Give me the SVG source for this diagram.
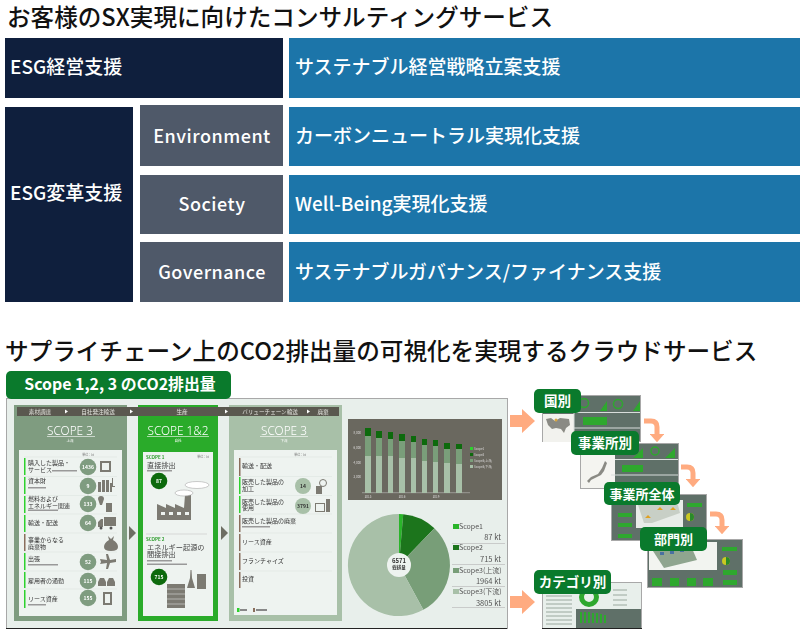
<svg xmlns="http://www.w3.org/2000/svg" width="800" height="631" viewBox="0 0 800 631">
<defs>
<style>
text{font-family:"Noto Sans CJK JP","Noto Sans",sans-serif}
.h{font-size:23.600px;font-weight:500;fill:#111}
.n{fill:#0f1f3d}.g{fill:#4f5969}.b{fill:#1c75a9}
.w{fill:#fff;font-size:19px;font-weight:500}
.e{fill:#fff;font-size:18px;font-weight:500;text-anchor:middle;letter-spacing:.5px}
.tag{fill:#0a7a2c}
.tt{fill:#fff;font-weight:700;font-size:13.500px;text-anchor:middle}
.sc{fill:#fff;font-family:"Noto Sans",sans-serif;font-weight:300;font-size:11.800px;text-anchor:middle}
.ti{fill:#fff;font-size:3.500px;text-anchor:middle}
.bt{fill:#e4e4de;font-size:5.600px;text-anchor:middle}
.it{fill:#333;font-size:6px}
.un{fill:#777;font-size:3px;text-anchor:middle}
.big{fill:#444;font-size:7.200px}
.c{fill:#7f9c80}.cl{fill:#a8c0a8}.cd{fill:#0a6a0a}
.ct{fill:#fff;font-size:5px;font-weight:700;text-anchor:middle}
.cb{fill:#333;font-size:5px;font-weight:700;text-anchor:middle}
.bar{fill:#2fd12f}.bar2{fill:#8a6e5c}
.ico{fill:#7c7a72}
.tl{fill:#999}
.sep{stroke:#dfe6e2;stroke-width:.7;fill:none}
.thumb{fill:#5f6f68;stroke:#a8a8a8;stroke-width:1}
.gb{fill:#2ea82e}
.pa{fill:#ffab80}
.pc{fill:none;stroke:#ffab80;stroke-width:5}
.lg{fill:#555;font-size:7px}
.lv{fill:#555;font-size:7.500px;text-anchor:end}
.ll{stroke:#bbb;stroke-width:.7}
.dn{fill:none;stroke:#2ea82e;stroke-width:1.500}
.tsep{stroke:#d8dedb;stroke-width:1}
.soft{filter:url(#soft)}
</style>
<filter id="soft" x="0" y="0" width="100%" height="100%"><feGaussianBlur stdDeviation="0.35"/></filter>
<marker id="ah" viewBox="0 0 16 28" refX="0" refY="14" markerWidth="1.700" markerHeight="2.900" orient="auto"><path d="M0 0L16 14L0 28z" fill="#ffab80"/></marker>
</defs>
<rect width="800" height="631" fill="#fff"/>
<text class="h" x="7" y="26">お客様のSX実現に向けたコンサルティングサービス</text>
<g id="esg-keiei"><rect class="n" x="5" y="38" width="278" height="60"/><text class="w" x="10" y="74">ESG経営支援</text></g>
<g id="sustainable"><rect class="b" x="289" y="38" width="511" height="60"/><text class="w" x="295" y="74">サステナブル経営戦略立案支援</text></g>
<g id="esg-henkaku"><rect class="n" x="5" y="107" width="128" height="195"/><text class="w" x="10" y="200">ESG変革支援</text></g>
<g id="environment"><rect class="g" x="140" y="105" width="143" height="61"/><text class="e" x="212" y="143">Environment</text></g>
<g id="society"><rect class="g" x="140" y="175" width="143" height="59"/><text class="e" x="212" y="211">Society</text></g>
<g id="governance"><rect class="g" x="140" y="242" width="143" height="60"/><text class="e" x="212" y="279">Governance</text></g>
<g id="carbon"><rect class="b" x="289" y="107" width="511" height="59"/><text class="w" x="295" y="143">カーボンニュートラル実現化支援</text></g>
<g id="wellbeing"><rect class="b" x="289" y="175" width="511" height="59"/><text class="w" x="295" y="211">Well-Being実現化支援</text></g>
<g id="finance"><rect class="b" x="289" y="242" width="511" height="60"/><text class="w" x="295" y="279">サステナブルガバナンス/ファイナンス支援</text></g>
<text class="h" x="5" y="360">サプライチェーン上のCO2排出量の可視化を実現するクラウドサービス</text>

<g id="dashboard" class="soft">
<rect x="6.500" y="398.500" width="501" height="230" fill="#e8efeb" stroke="#a8a8a8"/>
<path d="M6 628.500H507" stroke="#222"/>
<rect x="14" y="405" width="113" height="216" fill="#7f9c80"/>
<rect x="138" y="405" width="80" height="216" fill="#2cab2c"/>
<rect x="229" y="405" width="113" height="216" fill="#a8c0a8"/>
<rect x="17" y="407" width="322" height="9" fill="#5a5850"/>
<text class="bt" x="40" y="413.500">素材調達</text><path d="M65 409.500l3 2-3 2z" fill="#fff"/>
<text class="bt" x="98" y="413.500">自社発注輸送</text><path d="M130 409.500l3 2-3 2z" fill="#fff"/>
<text class="bt" x="182" y="413.500">生産</text><path d="M225 409.500l3 2-3 2z" fill="#fff"/>
<text class="bt" x="270" y="413.500">バリューチェーン輸送</text><path d="M307 409.500l3 2-3 2z" fill="#fff"/>
<text class="bt" x="323" y="413.500">廃棄</text>
<text class="sc" x="70" y="435">SCOPE 3</text><path d="M47 436.500H95" stroke="#fff" stroke-width=".6"/><text class="ti" x="70" y="442">上流</text>
<text class="sc" x="178" y="435">SCOPE 1&amp;2</text><path d="M147 436.500H209" stroke="#fff" stroke-width=".6"/><text class="ti" x="178" y="442">自社</text>
<text class="sc" x="284" y="435">SCOPE 3</text><path d="M260 436.500H308" stroke="#fff" stroke-width=".6"/><text class="ti" x="284" y="442">下流</text>
<rect x="19" y="450" width="103" height="166" fill="#eef3f0"/>
<rect x="143" y="452" width="70" height="164" fill="#eef3f0"/>
<rect x="234" y="450" width="103" height="165" fill="#eef3f0"/>
<path d="M129 526l7 7-7 7z" fill="#6e6e64"/>
<path d="M221 526l7 7-7 7z" fill="#6e6e64"/>
</g>
<g id="scope3-up" class="soft">
<text class="un" x="88" y="456">単位：kt</text>
<path class="sep" d="M24 457H117M24 476.500H117M24 495.500H117M24 514H117M24 533H117M24 552H117M24 571H117M24 589H117"/>
<rect class="bar" x="24" y="458" width="1.500" height="17"/><rect class="bar" x="24" y="477" width="1.500" height="17"/><rect class="bar" x="24" y="496" width="1.500" height="17"/><rect class="bar" x="24" y="515" width="1.500" height="17"/><rect class="bar2" x="24" y="534" width="1.500" height="17"/><rect class="bar" x="24" y="553" width="1.500" height="17"/><rect class="bar" x="24" y="572" width="1.500" height="16"/><rect class="bar" x="24" y="590" width="1.500" height="18"/>
<text class="it" x="28" y="465">購入した製品・</text><text class="it" x="28" y="472">サービス</text><rect class="tl" x="52" y="470" width="25" height="1.500"/>
<text class="it" x="28" y="483">資本財</text><rect class="tl" x="28" y="487" width="18" height="1.500"/>
<text class="it" x="28" y="501">燃料および</text><text class="it" x="28" y="508">エネルギー関連</text><rect class="tl" x="28" y="509.500" width="30" height="1.500"/>
<text class="it" x="28" y="525">輸送・配送</text>
<text class="it" x="28" y="542">事業からなる</text><text class="it" x="28" y="549">廃棄物</text>
<text class="it" x="28" y="561">出張</text><rect class="tl" x="28" y="564" width="30" height="1.500"/>
<text class="it" x="28" y="583">雇用者の通勤</text>
<text class="it" x="28" y="601">リース資産</text><rect class="tl" x="28" y="604" width="18" height="1.500"/>
<circle class="c" cx="88" cy="467" r="8.300"/><text class="ct" x="88" y="469">1436</text>
<circle class="c" cx="88" cy="486" r="8.300"/><text class="ct" x="88" y="488">9</text>
<circle class="c" cx="88" cy="504" r="8.300"/><text class="ct" x="88" y="506">133</text>
<circle class="c" cx="88" cy="523" r="8.300"/><text class="ct" x="88" y="525">64</text>
<circle class="c" cx="88" cy="562" r="8.300"/><text class="ct" x="88" y="564">52</text>
<circle class="c" cx="88" cy="581" r="8.300"/><text class="ct" x="88" y="583">115</text>
<circle class="c" cx="88" cy="598" r="8.300"/><text class="ct" x="88" y="600">155</text>
<path class="ico" fill-rule="evenodd" d="M100 461h11v11h-11zM102 463v7h7v-7z"/>
<path class="ico" d="M98 482h3v10h-3zM102 480h3v12h-3zM106 480h3v12h-3zM110 483h2v9h-2zM112 478h1v8h2v1h-3z"/>
<path class="ico" d="M98 499a3 3 0 0 1 6 0l-2 6h-2zM106 503h6v9h-6z"/>
<path class="ico" d="M104 517h12v9h-12zM98 527v-5l3-3h2v8z"/><circle cx="101" cy="528" r="1.500" fill="#555"/><circle cx="111" cy="528" r="1.500" fill="#555"/>
<path d="M108 536l3 3 3-3-1 4q5 3 5 7 0 4-7 4-7 0-7-4 0-4 5-7z" fill="#7c7a72"/>
<path class="ico" d="M106 554h2l2 6 6-1v3l-6 1-2 6h-2l1-6-7 1 1-2-1-3 7 1z"/>
<path class="ico" d="M98 582l2-4h4l2 4v4h-8zM107 582l2-4h4l2 4v4h-8z"/>
<path class="ico" fill-rule="evenodd" d="M103 592h9v13h-9zM105 594v9h5v-9z"/>
</g>
<g id="scope12" class="soft">
<text x="146" y="458.500" font-size="4.500" font-weight="700" fill="#2a9a2a">SCOPE 1</text><text class="un" x="203" y="458">単位：kt</text>
<text class="big" x="147" y="468">直接排出</text><rect class="tl" x="147" y="470" width="25" height="1.500"/>
<circle cx="159" cy="481" r="8.300" fill="#0a6a0a"/><text class="ct" x="159" y="483">87</text>
<path class="ico" d="M157 520v-16l9 4v-4l9 4v-4l9 4 1-13h6v25z"/><path fill="#eef3f0" d="M161 512h4v3h-4zM169 512h4v3h-4zM177 512h4v3h-4zM185 512h4v3h-4z"/>
<ellipse cx="197" cy="485" rx="12" ry="3.500" fill="#fff" stroke="#aaa" stroke-width=".6"/><ellipse cx="184" cy="493" rx="9" ry="3" fill="#fff" stroke="#aaa" stroke-width=".6"/>
<path d="M146 534H207" stroke="#ccc" stroke-width=".7"/>
<text x="146" y="541" font-size="4.500" font-weight="700" fill="#2a9a2a">SCOPE 2</text>
<text class="big" x="147" y="549.500">エネルギー起源の</text><text class="big" x="147" y="557">間接排出</text>
<rect class="tl" x="147" y="560" width="25" height="1.500"/><rect class="tl" x="147" y="563.500" width="40" height="1.500"/>
<circle cx="159" cy="577" r="8.300" fill="#0a6a0a"/><text class="ct" x="159" y="579">715</text>
<rect class="ico" x="167" y="584" width="18" height="24"/><path d="M167 589H185M167 594H185M167 599H185M167 604H185" stroke="#eef3f0" stroke-width=".5"/><path class="ico" d="M190.500 570h1l.5 8 3 10h-8l3-10z"/><rect class="ico" x="197" y="574" width="9" height="15"/>
</g>
<g id="scope3-down" class="soft">
<text class="un" x="300" y="456">単位：kt</text>
<path class="sep" d="M239 457H332M239 476.500H332M239 495.500H332M239 514H332M239 533H332M239 552H332M239 571H332"/>
<rect class="bar2" x="239" y="458" width="1.500" height="18"/><rect class="bar" x="239" y="477" width="1.500" height="17"/><rect class="bar" x="239" y="496" width="1.500" height="17"/><rect class="bar2" x="239" y="515" width="1.500" height="17"/><rect class="bar2" x="239" y="534" width="1.500" height="17"/><rect class="bar2" x="239" y="553" width="1.500" height="17"/><rect class="bar2" x="239" y="572" width="1.500" height="16"/>
<text class="it" x="242" y="468">輸送・配送</text>
<text class="it" x="242" y="484">販売した製品の</text><text class="it" x="242" y="491">加工</text>
<text class="it" x="242" y="503.500">販売した製品の</text><text class="it" x="242" y="510">使用</text>
<text class="it" x="242" y="523">販売した製品の廃棄</text><rect class="tl" x="242" y="526" width="28" height="1.500"/>
<text class="it" x="242" y="544">リース資産</text>
<text class="it" x="242" y="563">フランチャイズ</text>
<text class="it" x="242" y="581">投資</text>
<circle class="cl" cx="303" cy="486" r="8"/><text class="cb" x="303" y="488">14</text>
<circle class="cl" cx="303" cy="506" r="8"/><text class="cb" x="303" y="508">3791</text>
<rect class="ico" x="316" y="486" width="6" height="8"/><circle cx="323" cy="483" r="3.500" fill="none" stroke="#7c7a72"/>
<rect x="315.500" y="503.500" width="9" height="8" fill="none" stroke="#7c7a72"/><rect class="ico" x="326" y="499" width="4" height="13"/>
<rect x="237" y="608" width="2.500" height="4" fill="#2fd12f"/><rect x="240" y="609" width="7" height="2" fill="#888"/><rect x="253" y="608" width="2" height="4" fill="#8a6e5c"/><rect x="256" y="609" width="11" height="2" fill="#888"/>
</g>
<g id="bar-chart" class="soft">
<rect x="348" y="419" width="154" height="81" fill="#6b685f"/>
<path d="M362 492.700H470" stroke="#ccc" stroke-width=".5"/>
<path fill="#a8c0a8" d="M365 456h6v37h-6zM376 456h6v37h-6zM388 456h5v37h-5zM399 458h6v35h-6zM411 458h5v35h-5zM422 461h5v32h-5zM433 462h5v31h-5zM444 463h6v30h-6zM456 464h6v29h-6z"/>
<path fill="#7a9e7a" d="M365 436h6v20h-6zM376 438h6v18h-6zM388 439h5v17h-5zM399 441h6v17h-6zM411 442h5v16h-5zM422 445h5v16h-5zM433 446h5v16h-5zM444 449h6v14h-6zM456 449h6v15h-6z"/>
<path fill="#0f6a10" d="M365 428h6v8h-6zM376 431h6v7h-6zM388 432h5v7h-5zM399 434h6v7h-6zM411 436h5v6h-5zM422 439h5v6h-5zM433 440h5v6h-5zM444 443h6v6h-6zM456 444h6v5h-6z"/>
<rect x="470" y="447" width="3" height="3" fill="#2fd12f"/><rect x="470" y="453" width="3" height="3" fill="#0f6a10"/><rect x="470" y="459" width="3" height="3" fill="#7a9e7a"/><rect x="470" y="465" width="3" height="3" fill="#a8c0a8"/>
<g fill="#ddd" font-size="3"><text x="474" y="450">Scope1</text><text x="474" y="456">Scope2</text><text x="474" y="462">Scope3(上流)</text><text x="474" y="468">Scope3(下流)</text></g>
<g fill="#ddd" font-size="3" text-anchor="end"><text x="361" y="434">8,000</text><text x="361" y="449">6,000</text><text x="361" y="464">4,000</text><text x="361" y="478">2,000</text></g>
<g fill="#ddd" font-size="3" text-anchor="middle"><text x="368" y="498">2013</text><text x="402" y="498">2016</text><text x="436" y="498">2019</text></g>
</g>
<g id="pie" class="soft">
<path d="M399 565V514A51 51 0 0 1 403.200 514.200z" fill="#2ab52a"/>
<path d="M399 565L403.200 514.200A51 51 0 0 1 434.400 528.300z" fill="#1c741c"/>
<path d="M399 565L434.400 528.300A51 51 0 0 1 423.300 609.800z" fill="#789e78"/>
<path d="M399 565L423.300 609.800A51 51 0 1 1 399 514z" fill="#a8c0a8"/>
<circle cx="399" cy="565" r="12" fill="#eef3f0"/>
<text x="399" y="563" font-size="6" font-weight="700" fill="#333" text-anchor="middle">6571</text>
<text x="399" y="569" font-size="4.500" font-weight="700" fill="#333" text-anchor="middle">総排量</text>
<rect x="453" y="524" width="6" height="5" fill="#2ab52a"/><text class="lg" x="459" y="529">Scope1</text>
<rect x="453" y="545" width="6" height="5" fill="#1c741c"/><text class="lg" x="459" y="550">Scope2</text>
<rect x="453" y="568" width="6" height="5" fill="#789e78"/><text class="lg" x="459" y="573">Scope3(上流)</text>
<rect x="453" y="589" width="6" height="5" fill="#a8c0a8"/><text class="lg" x="459" y="594">Scope3(下流)</text>
<text class="lv" x="501" y="540">87 kt</text><text class="lv" x="501" y="562">715 kt</text><text class="lv" x="501" y="584">1964 kt</text><text class="lv" x="501" y="606">3805 kt</text>
<path class="ll" d="M452 543.500H505M452 564.500H505M452 586.500H505M452 607.500H505"/>
</g>
<g id="scope-tag"><rect class="tag" x="6" y="371" width="225" height="28" rx="5"/><text x="120" y="390" fill="#fff" font-weight="700" font-size="15.900" text-anchor="middle">Scope 1,2, 3 のCO2排出量</text></g>

<g id="connectors">
<path class="pa" d="M510 415h12v-6l13 12-13 12v-6h-12z"/>
<path class="pa" d="M510 596h12v-6l13 12-13 12v-6h-12z"/>
<path class="pc" d="M644 421h7q6 0 6 6v7" marker-end="url(#ah)"/>
<path class="pc" d="M681 467h6q6 0 6 6v6" marker-end="url(#ah)"/>
<path class="pc" d="M710 514h6q6 0 6 6v6" marker-end="url(#ah)"/>
</g>
<g id="thumb-country" class="soft"><rect class="thumb" x="542.500" y="395.500" width="98" height="46"/><rect x="543" y="414" width="31" height="28" fill="#f2f2ee"/><path d="M546 419l5-1 4 3 5-3 9 1 1 6-4 3-2 5-3-4-5-1-4 1-4-4z" fill="#8a8a84"/><circle cx="556" cy="420" r="1.500" fill="#d9a640"/><path class="tsep" d="M574 412.500H640M574 428H640M574 395V442"/><path class="gb" d="M583 417h24v8h-24zM600 411l7-10v10zM633 411l7-10v10z"/><circle class="dn" cx="584" cy="403" r="4.500"/><circle class="dn" cx="618" cy="404" r="4.500"/></g>
<g id="thumb-site" class="soft"><rect class="thumb" x="580.500" y="443.500" width="98" height="45"/><rect x="581" y="455" width="34" height="33" fill="#f4f4f0"/><path d="M605 461l2 2-3 8-3 4-10 5-2 3-2-2 4-4 7-3 4-6z" fill="#8a8a84"/><path class="tsep" d="M615 459.500H678M611 475H678"/><path class="gb" d="M622 465h21v7h-21zM633 458l10-10v10zM665 458l10-10v10z"/><circle class="dn" cx="655" cy="451" r="4"/></g>
<g id="thumb-whole" class="soft"><rect class="thumb" x="611.500" y="494.500" width="95" height="46"/><rect x="636" y="500" width="47" height="28" fill="#e8ece8"/><path d="M638 505h40l2 8-28 10h-8z" fill="#c8cfc6"/><path fill="#e0a020" d="M645 518l3-3 3 3zM657 510l3-3 3 3zM670 510l3-3 3 3z"/><path class="gb" d="M618 513h14v4h-14zM618 523h14v4h-14zM618 534h14v4h-14zM687 503h15v4h-15zM688 528h12v4h-12z"/><circle cx="690" cy="517" r="4" fill="#c8c820"/><path d="M690 513a4 4 0 0 1 0 8z" fill="#2a8a2a"/></g>
<g id="thumb-dept" class="soft"><rect class="thumb" x="647.500" y="539.500" width="95" height="48"/><rect x="649" y="542" width="68" height="28" fill="#f2f4f0"/><path d="M653 551l38-5 6 14-33 8z" fill="#8fa58f"/><path fill="#4a6fa0" d="M660 552h4v3h-4zM670 551h4v3h-4zM680 549h4v3h-4z"/><path class="gb" d="M652 578h10v8h-10zM670 578h9v8h-9zM687 578h9v8h-9zM703 578h10v8h-10zM722 547h15v4h-15zM723 570h14v5h-14zM723 580h14v5h-14z"/><circle cx="726" cy="561" r="4" fill="#c8c820"/><path d="M726 557a4 4 0 0 1 0 8z" fill="#2a8a2a"/></g>
<g id="thumb-cat" class="soft"><rect x="542.500" y="582.500" width="99" height="46" fill="#e8efeb" stroke="#a8a8a8"/><path d="M542 628.500H642" stroke="#222"/><rect x="576" y="609" width="65" height="19" fill="#5f6f68"/><path d="M546 596H572M546 600H572M546 604H572M546 608H572M546 612H572M546 616H572M546 620H572M546 624H572M613 590H627M613 595H627M613 600H627M613 605H627" stroke="#9aa89e" stroke-width="1"/><circle cx="589" cy="597" r="7.500" fill="none" stroke="#2ea82e" stroke-width="5"/><path class="gb" d="M580 612h2v11h-2zM584 612h2v11h-2zM588 612h2v11h-2zM592 613h2v10h-2zM596 613h2v10h-2zM600 614h2v9h-2zM604 615h2v8h-2z"/></g>
<g id="tag-country"><rect class="tag" x="534" y="389" width="47" height="24" rx="5"/><text class="tt" x="557.500" y="406">国別</text></g>
<g id="tag-site"><rect class="tag" x="571" y="431" width="68" height="24" rx="5"/><text class="tt" x="605" y="448">事業所別</text></g>
<g id="tag-whole"><rect class="tag" x="604" y="482" width="76" height="23" rx="5"/><text class="tt" x="642" y="498.500" style="font-size:13px">事業所全体</text></g>
<g id="tag-dept"><rect class="tag" x="640" y="527" width="67" height="24" rx="5"/><text class="tt" x="673.500" y="544" style="font-size:13px">部門別</text></g>
<g id="tag-cat"><rect class="tag" x="534" y="570" width="77" height="24" rx="5"/><text class="tt" x="572.500" y="587">カテゴリ別</text></g>
</svg>
